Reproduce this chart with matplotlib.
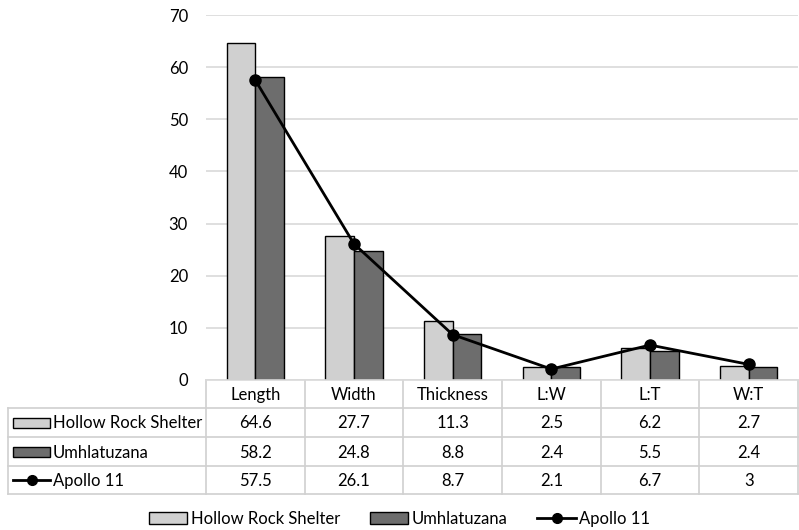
import matplotlib.pyplot as plt
from matplotlib.patches import Rectangle
from matplotlib.lines import Line2D
import numpy as np

plt.rcParams['font.family'] = ['Lato', 'DejaVu Sans']

categories = ['Length', 'Width', 'Thickness', 'L:W', 'L:T', 'W:T']
hollow = [64.6, 27.7, 11.3, 2.5, 6.2, 2.7]
umhl = [58.2, 24.8, 8.8, 2.4, 5.5, 2.4]
apollo = [57.5, 26.1, 8.7, 2.1, 6.7, 3]
hollow_lbl = ['64.6', '27.7', '11.3', '2.5', '6.2', '2.7']
umhl_lbl = ['58.2', '24.8', '8.8', '2.4', '5.5', '2.4']
apollo_lbl = ['57.5', '26.1', '8.7', '2.1', '6.7', '3']
series = ['Hollow Rock Shelter', 'Umhlatuzana', 'Apollo 11']

light = '#d0d0d0'
dark = '#6d6d6d'
grid = '#d9d9d9'
tcol = '#d0d0d0'
fs = 12

W, H = 799, 530
fig = plt.figure(figsize=(W / 100, H / 100), dpi=100)

# pixel geometry of the plot area
left, right, top, bottom = 206, 798, 15, 380
ax = fig.add_axes([left / W, 1 - bottom / H, (right - left) / W, (bottom - top) / H])

x = np.arange(len(categories))
bw = 0.29
ax.bar(x - bw / 2, hollow, bw, color=light, edgecolor='black', linewidth=1, zorder=2)
ax.bar(x + bw / 2, umhl, bw, color=dark, edgecolor='black', linewidth=1, zorder=2)
ax.plot(x, apollo, color='black', lw=2, marker='o', ms=8, zorder=3)

ax.set_xlim(-0.5, len(categories) - 0.5)
ax.set_ylim(0, 70)
ax.set_yticks(range(0, 71, 10))
ax.set_xticks([])
ax.yaxis.grid(True, color=grid, lw=1.2)
ax.set_axisbelow(True)
for s in ['top', 'right', 'left']:
    ax.spines[s].set_visible(False)
ax.spines['bottom'].set_color(grid)
ax.spines['bottom'].set_linewidth(1.2)
ax.tick_params(axis='y', length=0, pad=13, labelsize=fs)

# data table in pixel coordinates
tab = fig.add_axes([0, 0, 1, 1], zorder=-1)
tab.set_xlim(0, W)
tab.set_ylim(H, 0)
tab.axis('off')

cw = (right - left) / len(categories)
hdr_bot = 408
rows_y = [408, 437, 466, 494]
tleft = 8
lk = dict(color=tcol, lw=1.2)

# vertical lines
for i in range(len(categories) + 1):
    xx = left + i * cw
    tab.plot([xx, xx], [bottom, rows_y[-1]], **lk)
tab.plot([tleft, tleft], [rows_y[0], rows_y[-1]], **lk)
for yy in rows_y:
    tab.plot([tleft, right], [yy, yy], **lk)

for i, c in enumerate(categories):
    cx = left + (i + 0.5) * cw
    tab.text(cx, (bottom + hdr_bot) / 2 + 1, c, ha='center', va='center', fontsize=fs)
    for r, lbls in enumerate([hollow_lbl, umhl_lbl, apollo_lbl]):
        cy = (rows_y[r] + rows_y[r + 1]) / 2 + 1
        tab.text(cx, cy, lbls[i], ha='center', va='center', fontsize=fs)

# row labels with keys
for r, name in enumerate(series):
    cy = (rows_y[r] + rows_y[r + 1]) / 2
    if r < 2:
        tab.add_patch(Rectangle((13, cy - 5), 37, 10, facecolor=[light, dark][r],
                                edgecolor='black', lw=1))
    else:
        tab.plot([13, 50], [cy, cy], color='black', lw=2)
        tab.plot([31.5], [cy], 'o', color='black', ms=7)
    tab.text(53, cy + 1, name, ha='left', va='center', fontsize=fs)

handles = [Rectangle((0, 0), 1, 1, facecolor=light, edgecolor='black', lw=1),
           Rectangle((0, 0), 1, 1, facecolor=dark, edgecolor='black', lw=1),
           Line2D([], [], color='black', lw=2, marker='o', ms=7)]
fig.legend(handles, series, loc='center', bbox_to_anchor=(0.5, 1 - 519 / H), ncol=3,
           frameon=False, fontsize=fs, handlelength=2.3, handleheight=0.7,
           handletextpad=0.2, columnspacing=1.8)

fig.savefig('out.png', dpi=100)
